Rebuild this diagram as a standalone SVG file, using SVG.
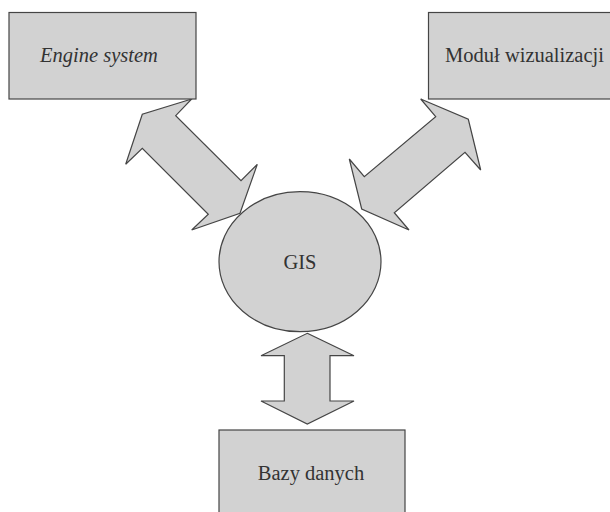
<svg xmlns="http://www.w3.org/2000/svg" width="610" height="512" viewBox="0 0 610 512">
<style>
.shape{fill:#d2d2d2;stroke:#454545;stroke-width:1.2}
.lbl{font-family:"Liberation Serif","Times New Roman",serif;font-size:20.5px;fill:#333;text-anchor:middle}
</style>
<rect width="610" height="512" fill="#fff"/>
<g id="connectors">
<polygon class="shape" points="191.7,99 142.3,114.3 125.7,164.3 142.3,148.3 208.3,214.3 191.7,230 240,213.3 257.3,164.3 241,180.7 175.7,115.7"/>
<polygon class="shape" points="420.7,99 468.3,119.3 480.7,170 465,152.3 394.3,212.7 409,230 361.7,209 349.3,159 364.3,176.7 435.7,116.7"/>
<polygon class="shape" points="307.3,333.3 354,355.7 330,355.7 330,401 354,401 307.3,424 261,401 284.3,401 284.3,355.7 261,355.7"/>
</g>
<g id="engine">
<rect class="shape" x="9" y="12.5" width="187" height="86.5"/>
<text class="lbl" x="99" y="62" font-style="italic">Engine system</text>
</g>
<g id="modul">
<rect class="shape" x="428.5" y="12.5" width="193" height="86.5"/>
<text class="lbl" x="524.5" y="62">Moduł wizualizacji</text>
</g>
<g id="gis">
<ellipse class="shape" cx="300" cy="261.7" rx="81" ry="70"/>
<text class="lbl" x="300" y="268.5">GIS</text>
</g>
<g id="bazy">
<rect class="shape" x="219" y="430" width="186" height="90"/>
<text class="lbl" x="311" y="479.5">Bazy danych</text>
</g>
</svg>
